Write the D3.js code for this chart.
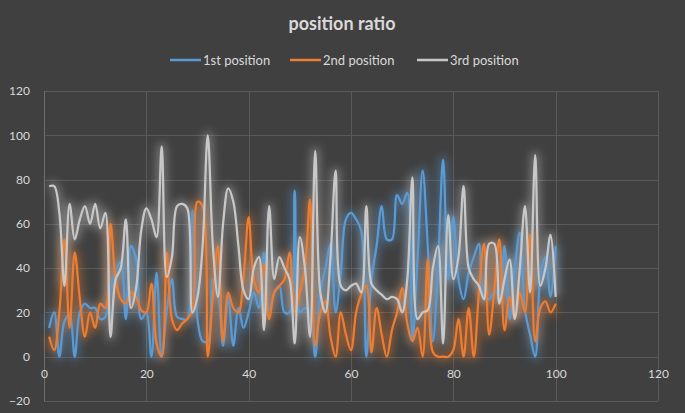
<!DOCTYPE html>
<meta charset="utf-8" />
<style>
  body { margin: 0; background: #404040; }
  svg text { font-family: Lato, "Open Sans", sans-serif; fill: #d9d9d9; }
  .grid line { stroke: #5a5a5a; stroke-width: 1; shape-rendering: crispEdges; }
  .axis path, .axis line { display: none; }
  .axis text { font-size: 12px; fill: #d9d9d9; }
</style>
<svg width="685" height="413"></svg>
<script src="https://cdn.jsdelivr.net/npm/d3@7"></script>
<script>
  // x positions 1..100
  var xs = d3.range(1, 101);

  var first = [13, 20, 0, 16, 19, 0, 20, 24, 22, 22, 17, 18, 30, 39, 43, 17, 50, 44, 17, 20,
    0, 38, 0, 21, 35, 18, 17, 17, 66, 17, 7, 7, 35, 29, 5, 27, 5, 22, 13, 20,
    29, 22, 47, 21, 29, 32, 20, 20, 75, 20, 22, 20, 0, 29, 40, 51, 20, 38, 62, 65,
    62, 57, 0, 35, 50, 68, 53, 53, 73, 69, 74, 7, 44, 84, 50, 7, 40, 89, 35, 63,
    35, 26, 38, 45, 51, 26, 26, 29, 29, 50, 17, 40, 56, 21, 10, 0, 36, 45, 27, 50];

  var second = [9, 3, 20, 53, 13, 47, 26, 9, 20, 13, 24, 22, 60, 35, 26, 24, 29, 27, 21, 20,
    33, 6, 0, 47, 17, 12, 15, 17, 21, 70, 68, 0, 27, 50, 7, 29, 22, 20, 36, 63,
    35, 29, 42, 17, 29, 32, 35, 47, 20, 29, 40, 71, 5, 20, 25, 9, 0, 20, 10, 3,
    20, 28, 32, 2, 22, 10, 0, 12, 20, 31, 15, 7, 13, 0, 44, 2, 0, 0, 0, 3,
    17, 0, 22, 0, 29, 51, 10, 30, 53, 12, 27, 17, 29, 20, 55, 7, 22, 25, 20, 24];

  var third = [77, 77, 65, 32, 69, 53, 62, 68, 60, 69, 58, 65, 9, 35, 40, 62, 22, 31, 57, 67,
    62, 54, 95, 36, 45, 68, 69, 67, 20, 27, 50, 100, 50, 27, 60, 76, 70, 50, 30, 26,
    40, 45, 12, 68, 35, 45, 40, 35, 6, 54, 40, 9, 93, 29, 20, 45, 84, 32, 30, 32,
    33, 29, 68, 33, 30, 28, 26, 27, 26, 20, 35, 81, 17, 20, 21, 40, 50, 6, 64, 35,
    45, 77, 40, 35, 32, 26, 51, 51, 24, 35, 44, 17, 40, 68, 29, 91, 32, 40, 55, 27];

  var seriesNames = ["1st position", "2nd position", "3rd position"];
  var seriesColors = ["#5b9bd5", "#ed7d31", "#c8c8c8"];
  var xTicks = [0, 20, 40, 60, 80, 100, 120];
  var yTicks = [-20, 0, 20, 40, 60, 80, 100, 120];

  var svg = d3.select("svg");
  var plotL = 44, plotR = 658, plotT = 91, plotB = 401;

  var x = d3.scaleLinear().domain([0, 120]).range([plotL, plotR]);
  var y = d3.scaleLinear().domain([-20, 120]).range([plotB, plotT]);

  var defs = svg.append("defs");
  var glow = defs.append("filter").attr("id", "glow")
    .attr("x", "-10%").attr("y", "-20%").attr("width", "120%").attr("height", "140%");
  glow.append("feGaussianBlur").attr("stdDeviation", 4);

  // grid
  var grid = svg.append("g").attr("class", "grid");
  grid.selectAll(".h").data(yTicks).enter().append("line")
    .attr("x1", plotL).attr("x2", plotR)
    .attr("y1", function(d) { return Math.round(y(d)) + 0.5; })
    .attr("y2", function(d) { return Math.round(y(d)) + 0.5; });
  grid.selectAll(".v").data(xTicks).enter().append("line")
    .attr("y1", plotT).attr("y2", plotB)
    .attr("x1", function(d) { return Math.round(x(d)) + 0.5; })
    .attr("x2", function(d) { return Math.round(x(d)) + 0.5; })
    .style("stroke", function(d) { return d === 0 ? "#6e6e6e" : null; });

  // axes
  svg.append("g").attr("class", "axis")
    .attr("transform", "translate(0," + (y(0) + 8) + ")")
    .call(d3.axisBottom(x).tickValues(xTicks).tickSize(0).tickPadding(5));
  svg.append("g").attr("class", "axis")
    .attr("transform", "translate(" + (plotL - 12) + ",0)")
    .call(d3.axisLeft(y).tickValues(yTicks).tickSize(0).tickPadding(2));

  var line = d3.line()
    .x(function(d, i) { return x(xs[i]); })
    .y(function(d) { return y(d); })
    .curve(d3.curveCatmullRom.alpha(0.5));

  var all = [first, second, third];
  all.forEach(function(s, k) {
    svg.append("path").datum(s)
      .attr("d", line)
      .attr("fill", "none")
      .attr("stroke", seriesColors[k])
      .attr("stroke-width", 8)
      .attr("stroke-opacity", 0.4)
      .attr("filter", "url(#glow)");
  });
  all.forEach(function(s, k) {
    svg.append("path").datum(s)
      .attr("d", line)
      .attr("fill", "none")
      .attr("stroke", seriesColors[k])
      .attr("stroke-width", 2.25)
      .attr("stroke-linejoin", "round");
  });

  // title
  svg.append("text")
    .attr("x", 342).attr("y", 30)
    .attr("text-anchor", "middle")
    .style("font-size", "18px").style("font-weight", "bold")
    .text("position ratio");

  // legend
  var legX = [170, 290, 417];
  seriesNames.forEach(function(n, k) {
    var g = svg.append("g").attr("transform", "translate(" + legX[k] + ",60)");
    g.append("line").attr("x1", 0).attr("x2", 31).attr("y1", 0).attr("y2", 0)
      .attr("stroke", seriesColors[k]).attr("stroke-width", 2.5);
    g.append("text").attr("x", 33).attr("y", 4.5)
      .style("font-size", "13px").text(n);
  });
</script>
